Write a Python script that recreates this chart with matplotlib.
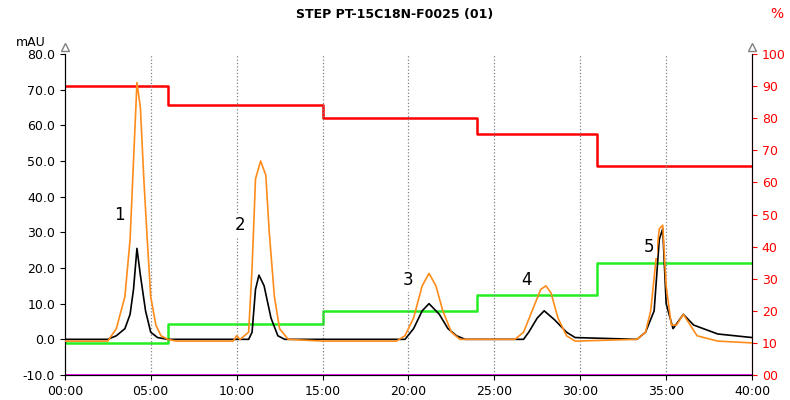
import matplotlib.pyplot as plt
from matplotlib.ticker import FuncFormatter

# chromatogram traces (time in min, mAU)
t_orange = [0, 2.5, 3.0, 3.5, 3.8, 4.0, 4.2, 4.4, 4.6, 4.8, 5.0, 5.3, 5.6, 6.0, 6.5, 9.8, 10.0, 10.2,
            10.7, 10.9, 11.1, 11.4, 11.7, 11.9, 12.2, 12.5, 13.0, 15.0, 19.3, 19.8, 20.3, 20.8, 21.2,
            21.6, 22.0, 22.5, 23.0, 26.2, 26.7, 27.2, 27.7, 28.0, 28.3, 28.7, 29.2, 29.7, 33.3, 33.8,
            34.1, 34.4, 34.6, 34.8, 35.0, 35.3, 35.6, 36.0, 36.4, 36.8, 38.0, 40.0]
y_orange = [-0.5, -0.5, 3, 12, 28, 50, 72, 65, 45, 28, 12, 4, 1, 0, -0.5, -0.5, 1, 0,
            2, 20, 45, 50, 46, 30, 12, 3, 0, -0.5, -0.5, 1, 6, 15, 18.5,
            15, 8, 2, 0, 0, 2, 8, 14, 15, 13, 6, 1, -0.5, 0, 2,
            8, 22, 31, 32, 15, 4, 4, 7, 4, 1, -0.5, -1]
t_black = [0, 2.5, 3.0, 3.5, 3.8, 4.0, 4.2, 4.4, 4.7, 5.0, 5.4, 6.0, 10.7, 10.9, 11.1, 11.3, 11.6,
           12.0, 12.4, 12.8, 19.8, 20.3, 20.8, 21.2, 21.8, 22.3, 22.8, 23.3, 26.7, 27.0, 27.5, 27.9,
           28.5, 29.2, 29.7, 33.3, 33.8, 34.3, 34.6, 34.8, 35.0, 35.4, 36.0, 36.6, 38.0, 40.0]
y_black = [0, 0, 1, 3, 7, 14, 25.5, 18, 8, 2, 0.5, 0, 0, 2, 14, 18, 15,
           6, 1, 0, 0, 3, 8, 10, 7, 3, 1, 0, 0, 2, 6, 8,
           5.5, 2, 0.5, 0, 2, 8, 28, 31, 10, 3, 7, 4, 1.5, 0.5]

# gradient programme (%)
t_step = [0, 6, 15, 24, 31, 40]
red_pct = [90, 84, 80, 75, 65, 65]
green_pct = [10, 16, 20, 25, 35, 35]

peak_labels = ['1', '2', '3', '4', '5']
peak_x = [3.2, 10.2, 20.0, 26.9, 34.0]
peak_y = [35, 32, 16.5, 16.5, 26]

fig = plt.figure(figsize=(7.9, 4.0), dpi=100)
ax = fig.add_axes([0.082, 0.0625, 0.87, 0.8025])
ax2 = ax.twinx()

ax.set_xlim(0, 40)
ax.set_ylim(-10, 80)
ax2.set_ylim(0, 100)

for x in range(5, 40, 5):
    ax.axvline(x, color='gray', ls=':', lw=0.9)

ax2.step(t_step, red_pct, where='post', color='#ff0000', lw=1.8)
ax2.step(t_step, green_pct, where='post', color='#22ee22', lw=1.8)
ax2.axhline(0, color='#ff00ff', lw=2)
ax.plot(t_black, y_black, color='black', lw=1.2, zorder=3)
ax.plot(t_orange, y_orange, color='#ff8c1a', lw=1.2, zorder=4)
ax.set_zorder(ax2.get_zorder() + 1)
ax.patch.set_visible(False)

for lab, x, y in zip(peak_labels, peak_x, peak_y):
    ax.text(x, y, lab, fontsize=12, ha='center', va='center', zorder=5,
            bbox=dict(facecolor='white', edgecolor='none', pad=2))

ax.set_xticks(range(0, 41, 5))
ax.xaxis.set_major_formatter(FuncFormatter(lambda v, p: '%02d:00' % v))
ax.set_yticks(range(-10, 81, 10))
ax.yaxis.set_major_formatter(FuncFormatter(lambda v, p: '%.1f' % v))
ax2.set_yticks(range(0, 101, 10))
ax2.yaxis.set_major_formatter(FuncFormatter(lambda v, p: '%02d' % v))
ax2.tick_params(axis='y', colors='#ff0000', labelsize=9)
ax2.spines['right'].set_color('#ff0000')
ax.tick_params(labelsize=9)
ax.spines['top'].set_visible(False)
ax2.spines['top'].set_visible(False)

ax.plot([0], [82], marker='^', ms=6, mfc='white', mec='gray', clip_on=False)
ax.plot([40], [82], marker='^', ms=6, mfc='white', mec='gray', clip_on=False)

fig.text(0.5, 0.955, 'STEP PT-15C18N-F0025 (01)', ha='center', fontsize=9, fontweight='bold')
fig.text(0.02, 0.885, 'mAU', fontsize=9)
fig.text(0.975, 0.955, '%', fontsize=10, color='#ff0000')

fig.savefig('out.png')
